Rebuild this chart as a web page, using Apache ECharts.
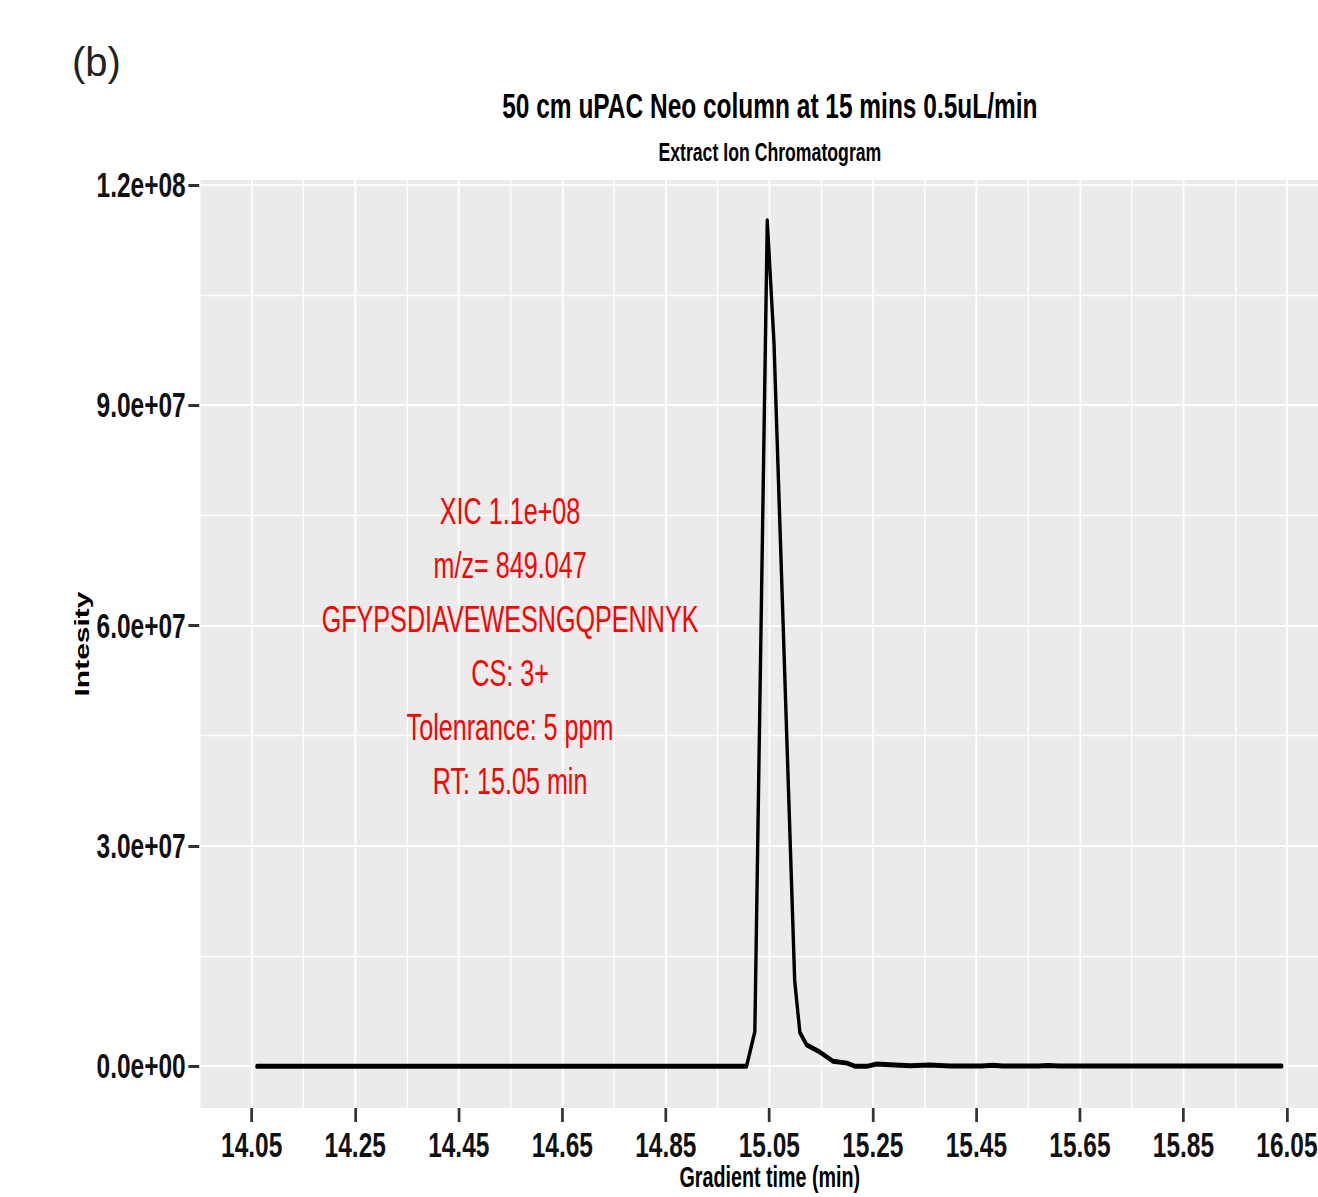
<!DOCTYPE html>
<html><head><meta charset="utf-8">
<script src="https://cdn.jsdelivr.net/npm/echarts@6/dist/echarts.min.js"></script>
<style>
html,body{margin:0;padding:0;overflow:hidden;background:#fff;width:1318px;height:1197px}
#wrap{position:absolute;left:0;top:0;width:1938px;height:1197px;transform:scaleX(0.68008);transform-origin:0 0;overflow:hidden}
#main{width:1938px;height:1197px}
#tag{position:absolute;left:0;top:0;width:220px;height:130px}
</style></head><body>
<div id="wrap"><div id="main"></div></div>
<div id="tag"></div>
<script>
// ---- data ----
const timeMin = [14.06, 14.30, 14.55, 14.80, 14.95, 15.006, 15.022, 15.046, 15.059, 15.099, 15.109, 15.122, 15.148, 15.173, 15.200, 15.215, 15.240, 15.258, 15.283, 15.322, 15.360, 15.399, 15.460, 15.482, 15.500, 15.570, 15.588, 15.610, 15.800, 16.040];
const intensity = [0, 0, 0, 0, 0, 0, 4.7e6, 1.151e8, 9.85e7, 1.16e7, 4.6e6, 2.9e6, 1.9e6, 6.8e5, 4.1e5, 0, 0, 3.0e5, 2.0e5, 5e4, 1.5e5, 3e4, 3e4, 1.2e5, 3e4, 3e4, 1.0e5, 2e4, 2e4, 2e4];

const xTicks = [14.05, 14.25, 14.45, 14.65, 14.85, 15.05, 15.25, 15.45, 15.65, 15.85, 16.05];
const xTickLabels = ['14.05', '14.25', '14.45', '14.65', '14.85', '15.05', '15.25', '15.45', '15.65', '15.85', '16.05'];
const xMinor = [13.95, 14.15, 14.35, 14.55, 14.75, 14.95, 15.15, 15.35, 15.55, 15.75, 15.95];
const yTicks = [0, 3e7, 6e7, 9e7, 1.2e8];
const yTickLabels = ['0.0e+00', '3.0e+07', '6.0e+07', '9.0e+07', '1.2e+08'];
const yMinor = [1.5e7, 4.5e7, 7.5e7, 1.05e8];

const annotationLines = ['XIC 1.1e+08', 'm/z= 849.047', 'GFYPSDIAVEWESNGQPENNYK', 'CS: 3+', 'Tolenrance: 5 ppm', 'RT: 15.05 min'];
const titleText = '50 cm uPAC Neo column at 15 mins 0.5uL/min';
const subtitleText = 'Extract Ion Chromatogram';
const xName = 'Gradient time (min)';
const yName = 'Intesity';
const panelTag = '(b)';

// ---- chart ----
const FONT = "'Liberation Sans', Arial, Helvetica, sans-serif";
const pts = timeMin.map((t, i) => [t, intensity[i]]);
const labelFrom = (ticks, labels) => v => {
  const i = ticks.findIndex(t => Math.abs(t - v) < 1e-6 * Math.max(1, Math.abs(t)));
  return i >= 0 ? labels[i] : '';
};

const gridLines = []
  .concat(xMinor.map(v => ({ xAxis: v, lineStyle: { color: '#ffffff', width: 2.0, type: 'solid' } })))
  .concat(xTicks.map(v => ({ xAxis: v, lineStyle: { color: '#ffffff', width: 2.7, type: 'solid' } })))
  .concat(yMinor.map(v => ({ yAxis: v, lineStyle: { color: '#ffffff', width: 1.3, type: 'solid' } })))
  .concat(yTicks.map(v => ({ yAxis: v, lineStyle: { color: '#ffffff', width: 2.0, type: 'solid' } })));

const chart = echarts.init(document.getElementById('main'), null, { renderer: 'svg' });
chart.setOption({
  animation: false,
  backgroundColor: '#ffffff',
  textStyle: { fontFamily: FONT },
  grid: { left: 294, right: -32, top: 180, bottom: 89, show: true, backgroundColor: '#EBEBEB', borderWidth: 0, containLabel: false, outerBoundsMode: 'none' },
  xAxis: {
    type: 'value', min: 13.95, max: 16.152,
    axisLine: { show: false, onZero: false },
    axisTick: { show: true, length: 14, customValues: xTicks, lineStyle: { color: '#333333', width: 4 } },
    axisLabel: { customValues: xTicks, formatter: labelFrom(xTicks, xTickLabels), margin: 19, color: '#111111', fontSize: 36, fontWeight: 'bold', fontFamily: FONT },
    splitLine: { show: false },
    name: xName, nameLocation: 'middle', nameGap: 55, nameMoveOverlap: false,
    nameTextStyle: { fontSize: 29, fontWeight: 'bold', color: '#000000', fontFamily: FONT }
  },
  yAxis: {
    type: 'value', min: -5.7e6, max: 1.2065e8,
    axisLine: { show: false, onZero: false },
    axisTick: { show: true, length: 17, customValues: yTicks, lineStyle: { color: '#333333', width: 3 } },
    axisLabel: { customValues: yTicks, formatter: labelFrom(yTicks, yTickLabels), margin: 21, color: '#111111', fontSize: 36, fontWeight: 'bold', fontFamily: FONT },
    splitLine: { show: false },
    name: yName, nameLocation: 'middle', nameRotate: 90, nameGap: 159, nameMoveOverlap: false,
    nameTextStyle: { fontSize: 30, fontWeight: 'bold', color: '#000000', fontFamily: FONT }
  },
  series: [
    {
      type: 'line', data: [], z: 1, silent: true, showSymbol: false,
      markLine: { silent: true, z: 1, symbol: ['none', 'none'], label: { show: false }, lineStyle: { type: 'solid' }, data: gridLines, animation: false }
    },
    {
      type: 'line', data: pts, z: 10, showSymbol: false, symbol: 'none', silent: true,
      lineStyle: { color: '#000000', width: 5, join: 'round', cap: 'round' }
    }
  ],
  graphic: [
    { type: 'text', x: 1132, y: 106, z: 100, style: { text: titleText, fontSize: 36, fontWeight: 'bold', fill: '#000000', fontFamily: FONT, textAlign: 'center', textVerticalAlign: 'middle' } },
    { type: 'text', x: 1132, y: 152, z: 100, style: { text: subtitleText, fontSize: 26, fontWeight: 'bold', fill: '#000000', fontFamily: FONT, textAlign: 'center', textVerticalAlign: 'middle' } },
    { type: 'text', x: 750, y: 646, z: 100, style: { text: annotationLines.join('\n'), fontSize: 37, lineHeight: 54, fill: '#FF0000', fontFamily: FONT, textAlign: 'center', textVerticalAlign: 'middle' } }
  ]
});

const tag = echarts.init(document.getElementById('tag'), null, { renderer: 'svg' });
tag.setOption({
  animation: false,
  graphic: [{ type: 'text', x: 72, y: 62, style: { text: panelTag, fontSize: 40, fill: '#222222', fontFamily: FONT, textAlign: 'left', textVerticalAlign: 'middle' } }]
});
</script>
</body></html>
